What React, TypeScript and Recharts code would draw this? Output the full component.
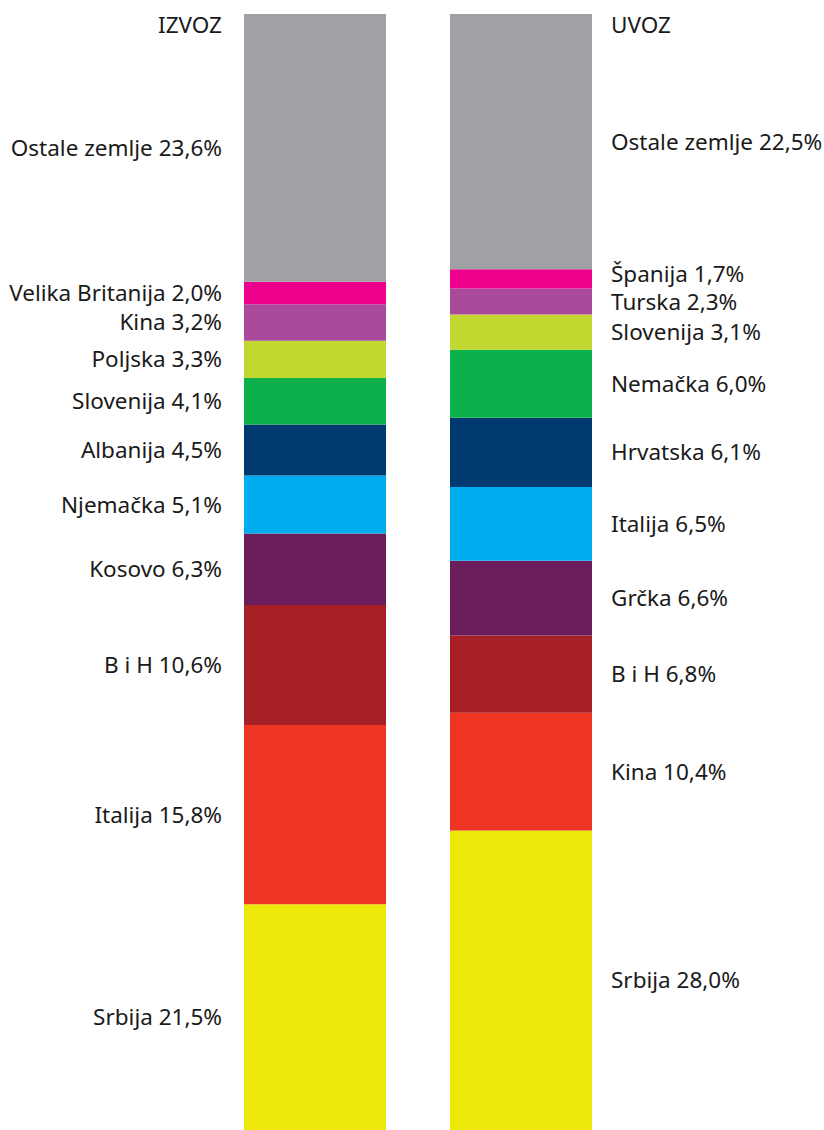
import React from 'react';
import { BarChart, Bar, XAxis, YAxis, LabelList } from 'recharts';

// stack order: bottom -> top
const izvozCountries = ['Srbija', 'Italija', 'B i H', 'Kosovo', 'Njemačka', 'Albanija', 'Slovenija', 'Poljska', 'Kina', 'Velika Britanija', 'Ostale zemlje'];
const izvozShares = [21.5, 15.8, 10.6, 6.3, 5.1, 4.5, 4.1, 3.3, 3.2, 2.0, 23.6];

const uvozCountries = ['Srbija', 'Kina', 'B i H', 'Grčka', 'Italija', 'Hrvatska', 'Nemačka', 'Slovenija', 'Turska', 'Španija', 'Ostale zemlje'];
const uvozShares = [28.0, 10.4, 6.8, 6.6, 6.5, 6.1, 6.0, 3.1, 2.3, 1.7, 22.5];

const barNames = ['IZVOZ', 'UVOZ'];

const segmentColors = ['#ECE80A', '#EE3524', '#A61F24', '#6A1D5A', '#00AEEF', '#003A70', '#0DB14B', '#C2D830', '#AA4A9B', '#EC008C', '#A0A1A5'];

const W = 824;
const H = 1130;
const BAR_W = 142;
const FONT = '"Noto Sans", sans-serif';
const FS = 22.5;

const chartData = barNames.map((bar, r) => {
  const shares = r === 0 ? izvozShares : uvozShares;
  const row: Record<string, any> = { bar };
  shares.forEach((v, i) => { row[`s${i}`] = v; });
  return row;
});

const fmt = (v: number) => v.toFixed(1).replace('.', ',');

const SegmentLabel = (props: any) => {
  const { seg, index } = props;
  const vb = props.viewBox || props;
  const x = vb.x, y = vb.y, w = vb.width, h = vb.height;
  if (x == null || y == null) return null;
  const names = index === 0 ? izvozCountries : uvozCountries;
  const shares = index === 0 ? izvozShares : uvozShares;
  const bottom = Math.min(y + h, H);
  // very thin slices get their label nudged up so it clears the one below
  const cy = (y + bottom) / 2 - (h < 21 ? 5 : 0);
  const left = index === 0;
  const tx = left ? x - 22 : x + w + 19;
  const anchor = left ? 'end' : 'start';
  return (
    <g>
      <text x={tx} y={cy + 8} textAnchor={anchor} fontFamily={FONT} fontSize={FS} fill="#1a1a1a">
        {`${names[seg]} ${fmt(shares[seg])}%`}
      </text>
      {seg === segmentColors.length - 1 && (
        <text x={tx} y={y + 19} textAnchor={anchor} fontFamily={FONT} fontSize={FS} fill="#1a1a1a">
          {barNames[index]}
        </text>
      )}
    </g>
  );
};

const App: React.FC = () => {
  return (
    <div style={{ position: 'absolute', top: 0, left: 0, width: W, height: H, background: '#fff' }}>
      <BarChart width={W} height={H} data={chartData} margin={{ top: 14, right: 200, bottom: 0, left: 212 }} barSize={BAR_W}>
        <XAxis dataKey="bar" hide />
        <YAxis type="number" domain={[1.6, 100]} allowDataOverflow hide />
        {segmentColors.map((c, i) => (
          <Bar key={i} dataKey={`s${i}`} stackId="a" fill={c} isAnimationActive={false}>
            <LabelList dataKey={`s${i}`} content={(p: any) => <SegmentLabel {...p} seg={i} />} />
          </Bar>
        ))}
      </BarChart>
    </div>
  );
};

export default App;
